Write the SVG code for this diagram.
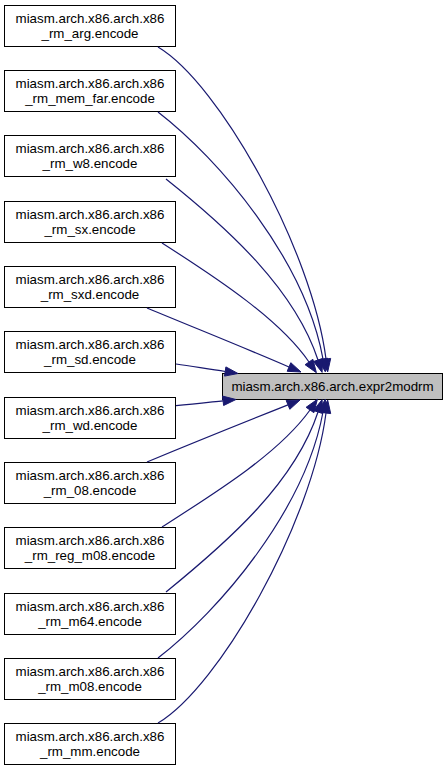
<svg xmlns="http://www.w3.org/2000/svg" width="448" height="771" viewBox="0 0 448 771">
<style>
text{font-family:"Liberation Sans",Arial,sans-serif;font-size:13.33px;fill:#000;text-anchor:middle}
.n rect{fill:#fff;stroke:#000;stroke-width:1}
.t rect{fill:#bfbfbf;stroke:#000;stroke-width:1}
.e path{fill:none;stroke:#191970;stroke-width:1.2}
.e polygon{fill:#191970;stroke:#191970;stroke-width:1}
</style>
<rect width="448" height="771" fill="#fff"/>
<g id="target" class="t"><rect x="222.5" y="373.5" width="220" height="26"/><text x="332.5" y="391">miasm.arch.x86.arch.expr2modrm</text></g>
<g id="n0" class="n"><rect x="4.5" y="5.5" width="171" height="41"/><text x="90" y="22.5">miasm.arch.x86.arch.x86</text><text x="90" y="37.5">_rm_arg.encode</text></g>
<g id="n1" class="n"><rect x="4.5" y="70.5" width="171" height="41"/><text x="90" y="87.5">miasm.arch.x86.arch.x86</text><text x="90" y="102.5">_rm_mem_far.encode</text></g>
<g id="n2" class="n"><rect x="4.5" y="135.5" width="171" height="41"/><text x="90" y="152.5">miasm.arch.x86.arch.x86</text><text x="90" y="167.5">_rm_w8.encode</text></g>
<g id="n3" class="n"><rect x="4.5" y="201.5" width="171" height="41"/><text x="90" y="218.5">miasm.arch.x86.arch.x86</text><text x="90" y="233.5">_rm_sx.encode</text></g>
<g id="n4" class="n"><rect x="4.5" y="266.5" width="171" height="41"/><text x="90" y="283.5">miasm.arch.x86.arch.x86</text><text x="90" y="298.5">_rm_sxd.encode</text></g>
<g id="n5" class="n"><rect x="4.5" y="331.5" width="171" height="41"/><text x="90" y="348.5">miasm.arch.x86.arch.x86</text><text x="90" y="363.5">_rm_sd.encode</text></g>
<g id="n6" class="n"><rect x="4.5" y="397.5" width="171" height="41"/><text x="90" y="414.5">miasm.arch.x86.arch.x86</text><text x="90" y="429.5">_rm_wd.encode</text></g>
<g id="n7" class="n"><rect x="4.5" y="462.5" width="171" height="41"/><text x="90" y="479.5">miasm.arch.x86.arch.x86</text><text x="90" y="494.5">_rm_08.encode</text></g>
<g id="n8" class="n"><rect x="4.5" y="527.5" width="171" height="41"/><text x="90" y="544.5">miasm.arch.x86.arch.x86</text><text x="90" y="559.5">_rm_reg_m08.encode</text></g>
<g id="n9" class="n"><rect x="4.5" y="593.5" width="171" height="41"/><text x="90" y="610.5">miasm.arch.x86.arch.x86</text><text x="90" y="625.5">_rm_m64.encode</text></g>
<g id="n10" class="n"><rect x="4.5" y="658.5" width="171" height="41"/><text x="90" y="675.5">miasm.arch.x86.arch.x86</text><text x="90" y="690.5">_rm_m08.encode</text></g>
<g id="n11" class="n"><rect x="4.5" y="723.5" width="171" height="41"/><text x="90" y="740.5">miasm.arch.x86.arch.x86</text><text x="90" y="755.5">_rm_mm.encode</text></g>
<g id="edges" class="e">
<path d="M158,47 C220,84 312,250 326,359"/><polygon points="321.3,359.6 327.7,371.9 330.7,358.4"/>
<path d="M158,112 C220,160 305,260 323,359"/><polygon points="318.4,359.8 325.3,371.8 327.6,358.2"/>
<path d="M166,179 C230,230 295,290 318,360"/><polygon points="313.5,361.5 322.1,372.4 322.5,358.5"/>
<path d="M162,243 C220,280 280,320 309,362"/><polygon points="305.1,364.7 316.4,372.7 312.9,359.3"/>
<path d="M147,308 C200,330 250,350 289,367"/><polygon points="287.2,371.3 301,372 290.8,362.7"/>
<path d="M176,364 C195,367 210,369 225.2,371.5"/><polygon points="224.5,376.1 238,373.5 225.9,366.9"/>
<path d="M176,405.7 C195,404 210,402.2 223.1,400.8"/><polygon points="223.6,405.5 236,399.5 222.6,396.1"/>
<path d="M147,462 C200,440 250,420 288,404.9"/><polygon points="289.8,409.3 300,400 286.2,400.5"/>
<path d="M162,527 C220,490 280,452 310,410"/><polygon points="313.9,412.7 317.4,399.3 306.1,407.3"/>
<path d="M166,592 C230,540 295,482 318,412"/><polygon points="322.5,413.5 322.1,399.6 313.5,410.5"/>
<path d="M158,658 C220,610 305,510 323,412"/><polygon points="327.6,412.8 325.3,399.2 318.4,411.2"/>
<path d="M158,723 C220,686 312,522 326,413"/><polygon points="330.7,413.6 327.7,400.1 321.3,412.4"/>
</g>
</svg>
